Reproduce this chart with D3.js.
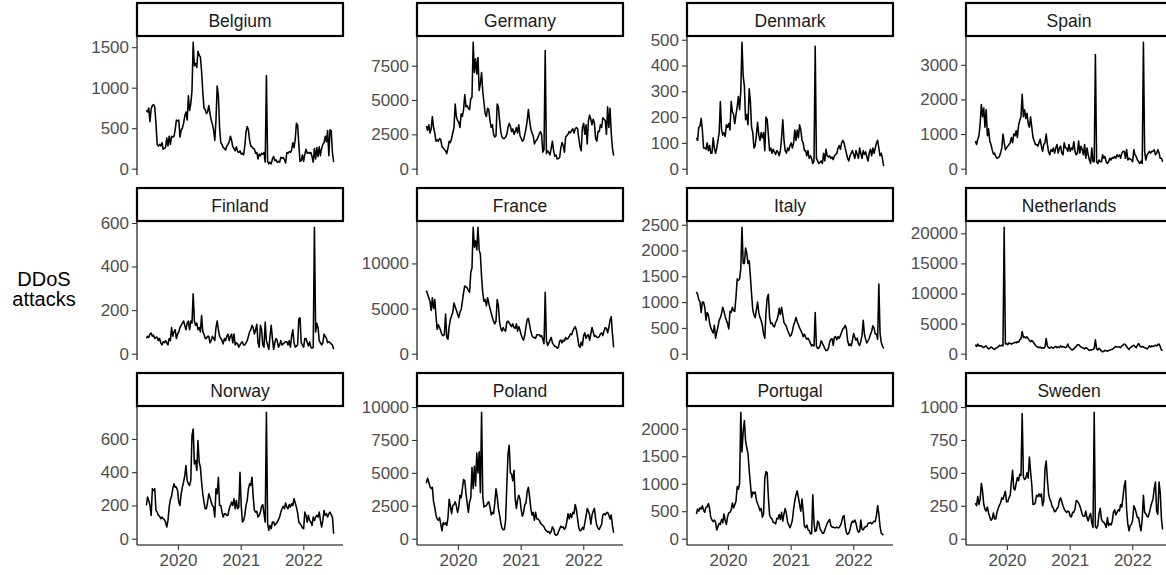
<!DOCTYPE html>
<html><head><meta charset="utf-8">
<script src="https://cdn.jsdelivr.net/npm/d3@7"></script>
<style>body{margin:0;background:#fff}svg{display:block}</style>
</head><body>
<svg id="chart" width="1166" height="575"></svg>
<script>
// ---- data ----
const countries = ["Belgium","Germany","Denmark","Spain","Finland","France","Italy","Netherlands","Norway","Poland","Portugal","Sweden"];
const firstWeek = "2019-07-01"; // weekly observations
const yearTicks = ["2020-01-01","2021-01-01","2022-01-01"];
const yearLabels = ["2020","2021","2022"];

const belgium = [720,700,750,580,740,780,790,760,560,300,280,300,280,320,240,250,260,380,280,400,300,400,390,400,480,600,590,600,390,480,500,560,650,700,600,900,720,800,960,1560,1270,1300,1250,1450,1400,1380,1200,950,750,730,680,700,780,680,600,550,480,350,600,1020,900,500,320,300,260,250,230,280,300,330,400,350,270,250,220,270,210,200,220,180,190,170,280,450,520,480,350,280,270,250,240,190,200,120,180,160,190,180,200,80,1150,90,60,80,60,120,150,100,110,80,90,80,140,130,140,110,70,200,190,210,200,230,320,260,360,560,540,300,90,100,170,90,180,240,190,200,190,200,150,80,250,120,260,150,270,160,250,300,320,400,330,470,160,480,470,200,80];
const germany = [3100,2800,3200,2600,2900,3800,3000,2600,2000,2100,2000,2200,2100,1600,1500,1400,1300,1100,1500,2000,1900,2200,2600,3000,4700,3800,3500,3400,3000,4000,3800,4300,5400,4500,4600,4400,4300,5100,5200,9200,7000,8000,6900,8100,5700,6200,7000,5600,4800,4000,3800,4400,4300,3500,3000,3200,2500,2300,2400,4700,4500,3500,2700,2300,2200,2200,2300,2500,3000,3300,3100,2700,2900,2500,2700,3000,2600,3200,2400,2200,2000,2100,2500,2900,3500,4300,3500,2900,2600,2400,1800,2000,2100,2300,2500,2700,2500,1200,1400,8600,1100,1300,1200,1000,1500,2000,1300,900,1000,700,750,800,1500,1900,1700,1200,2300,2400,2500,2700,2600,2800,2900,2600,2900,3000,2900,2200,1600,1300,3000,3300,2500,3200,1800,3500,3900,3600,3200,3600,3300,2200,2000,2700,2700,3200,3000,3700,3600,3500,2500,4500,3000,4400,2600,1500,950];
const denmark = [120,110,160,165,195,150,80,80,75,100,70,90,60,60,120,80,60,80,110,140,260,150,130,140,125,170,160,175,150,260,220,210,175,210,240,280,230,300,490,360,320,190,210,170,310,260,160,140,80,90,130,180,130,110,140,120,140,70,200,190,130,70,80,60,75,65,55,70,65,50,70,120,190,110,70,60,80,70,90,100,80,100,150,110,150,120,170,150,110,100,70,70,50,70,40,50,40,20,30,475,40,30,20,25,30,20,60,30,75,50,45,50,40,45,35,50,55,60,80,90,75,100,110,100,80,60,40,30,50,60,70,55,40,70,55,40,80,60,40,70,55,65,45,30,60,75,50,80,60,80,100,110,80,50,60,40,10];
const spain = [800,700,850,950,1300,1850,1500,1750,1200,1700,950,1150,800,700,550,420,450,350,300,320,350,450,600,1000,750,550,600,650,700,750,900,750,1000,950,1100,900,1250,1400,1500,2150,1500,1700,1450,1600,1300,1200,1500,1200,900,800,700,700,650,750,850,650,500,700,750,1000,700,480,400,550,500,600,450,600,700,450,600,650,450,400,750,600,600,500,700,500,600,550,780,500,400,450,800,450,650,550,400,700,300,600,400,250,150,600,200,200,3300,200,150,250,200,200,400,300,350,200,150,200,300,250,320,300,350,300,400,350,400,300,450,500,500,300,550,250,300,280,250,200,550,400,350,250,200,150,220,150,3650,500,250,400,450,500,450,500,500,550,400,450,550,450,300,300,200];
const finland = [70,80,75,90,95,80,85,70,75,75,60,70,50,40,55,50,60,50,40,70,60,120,80,100,110,70,90,100,120,130,140,150,130,110,140,150,110,150,140,275,150,130,140,110,120,100,175,100,90,70,70,80,80,50,60,80,70,60,120,150,110,80,70,60,45,70,60,80,90,60,80,90,50,90,40,50,45,30,40,50,55,40,40,50,60,80,100,110,130,120,90,110,135,50,30,130,110,40,30,145,60,40,20,80,130,70,20,50,70,60,30,40,60,40,45,50,55,55,40,60,30,80,110,50,30,35,40,160,165,50,40,30,70,70,50,35,55,30,25,30,580,100,140,120,60,50,40,50,90,80,70,50,55,50,45,40,20];
const france = [7000,6600,6200,5800,4800,6200,5000,6000,4200,2700,3200,2900,2500,2100,2000,2100,4400,1800,1600,3000,3800,4200,4600,5600,5200,4800,4400,4000,4600,4900,5800,6800,7500,7400,7300,7000,6800,9000,9500,14000,11800,12500,11500,14000,11500,11000,8500,6700,5800,6000,5300,6200,5600,5000,4500,4000,3600,3300,3600,6000,5300,3500,2800,2500,2900,2600,2500,3500,3600,3400,3200,3000,3300,2900,2800,3300,2500,3000,2600,2100,1700,1500,2100,3000,3800,3900,3200,2500,2000,1800,1800,1700,2100,2100,2100,1900,2000,1600,1100,6800,1500,900,1200,1500,1800,1200,1000,800,800,600,700,1400,1500,1200,1500,1400,1800,1600,1700,1900,2200,2100,2500,2800,3000,2600,1800,900,700,1300,900,2000,2300,1700,2000,2100,1500,2200,2900,2400,1900,2000,1800,1800,1900,2200,2300,2000,2500,2900,2800,2300,2900,3700,4100,2200,700];
const italy = [1200,1150,1050,1000,800,1000,1000,900,650,800,750,600,500,450,400,550,300,420,520,650,700,780,900,820,720,650,580,480,820,800,900,830,820,1100,1450,1420,1450,1650,2450,1750,1750,2050,1950,1750,1800,1500,1150,850,750,700,850,1000,800,700,640,550,380,300,800,1080,1150,700,580,600,540,520,600,650,720,880,760,900,750,600,570,530,450,400,340,360,440,550,620,700,620,560,500,450,400,330,380,320,280,300,260,200,150,170,150,800,150,100,110,150,250,200,150,100,60,60,110,220,280,290,160,320,330,270,330,300,350,420,480,500,550,480,250,160,190,150,260,390,320,260,300,190,160,240,350,650,380,280,210,250,300,370,430,540,500,380,380,280,1350,400,220,150,100];
const netherlands = [1500,1200,1600,1300,1300,1300,1100,1000,1200,1300,1000,800,900,1100,1000,800,700,900,1000,1100,1400,1300,1400,1300,21000,1600,1700,1500,1800,1700,1600,1700,1800,1900,1800,2000,1900,2300,2500,3700,2700,2800,2600,2800,2500,2200,2000,2200,2000,1700,1400,1200,1100,1000,1100,900,1000,900,1100,2500,1300,1000,900,1100,1000,900,1100,1200,1000,1100,1000,1300,1100,1200,1100,1000,1100,1600,1100,900,700,600,800,1000,1200,1500,1500,1300,1100,1000,900,800,1000,900,700,550,600,650,700,900,2300,800,600,900,700,450,300,400,550,500,400,500,600,700,700,900,1050,1200,1100,1100,1100,1000,1300,1400,1600,1500,1200,900,700,1000,1100,1300,1400,1200,1000,1400,1700,1300,1100,1200,1100,1000,900,800,1000,1300,1100,1300,1200,1300,1400,1300,1500,1600,1200,600,500];
const norway = [200,250,230,200,140,300,290,300,170,160,140,135,120,130,120,115,100,70,110,190,235,255,300,330,310,310,290,220,200,270,310,340,380,440,350,330,320,350,620,660,450,470,410,590,460,430,340,270,220,180,180,220,270,250,220,200,190,130,300,270,370,200,200,160,130,150,150,140,140,180,200,220,200,240,180,230,180,190,400,200,100,110,140,200,230,300,330,320,370,250,170,160,165,130,140,160,195,205,150,100,760,90,50,80,60,100,100,80,90,100,115,130,160,180,195,180,215,190,180,205,190,210,200,240,215,190,155,100,90,80,65,60,160,140,100,140,110,100,80,130,110,130,140,130,160,110,70,110,170,140,150,130,150,160,145,130,30];
const poland = [4200,4600,4300,3950,3800,3900,2800,2400,1800,1500,1400,1600,1100,600,1200,1100,1200,1000,1600,3000,2500,1900,2500,2600,2800,2500,2000,2400,3300,3100,3800,4500,4400,3400,2700,2000,2800,3100,5400,3800,5500,4000,6500,5000,6600,3500,9600,3200,2400,2500,2500,2700,2800,2400,1800,2000,1900,2700,3800,3200,2300,1800,1200,800,680,700,1400,4000,6400,7100,5000,4900,4400,5200,3000,2300,3000,3300,3000,2200,1700,2000,2600,2700,3600,3900,3200,2300,1800,2000,1400,2000,1500,1500,1400,1200,1100,1000,900,700,600,500,550,380,550,900,750,350,260,300,500,750,950,850,900,700,850,1300,1900,1500,1900,1600,2000,1900,2600,2200,1500,800,600,650,850,700,1200,1700,2300,2100,1800,1100,1800,2100,2300,1500,1000,800,700,900,1100,1800,1900,1800,1950,2000,1800,1500,1800,1000,450];
const portugal = [450,540,500,560,540,600,520,480,570,580,640,550,390,340,310,340,300,160,220,280,260,350,290,450,330,260,400,470,480,520,650,560,620,680,950,900,1000,2300,1580,1950,2150,1780,1650,1550,1250,1000,750,850,820,850,700,640,580,510,550,390,450,1100,1220,1200,750,430,380,360,300,290,270,370,360,440,350,480,320,450,550,450,300,250,200,260,340,540,690,800,870,750,620,500,720,500,230,200,250,160,150,90,90,800,280,130,150,320,290,180,140,100,100,160,220,280,320,350,240,210,210,200,200,210,200,200,240,300,400,420,230,110,80,100,170,270,320,300,340,280,170,120,130,340,170,160,200,220,220,280,280,300,270,290,320,310,420,600,450,220,100,80,70];
const sweden = [270,250,320,260,300,420,360,260,225,210,240,195,165,140,150,195,150,150,200,230,255,270,310,300,330,360,280,280,310,330,430,520,380,370,420,465,440,490,480,950,470,450,460,500,460,620,510,410,260,260,275,330,320,340,320,340,250,290,530,590,450,340,300,280,245,230,205,210,230,240,290,310,280,250,225,210,200,210,205,170,165,200,200,225,290,285,270,250,220,185,170,170,210,160,135,170,190,120,85,960,90,80,100,190,230,150,130,125,110,85,160,100,115,105,130,200,220,180,200,220,210,260,240,320,400,440,220,110,60,100,110,140,250,230,195,160,160,100,60,150,330,200,190,170,165,200,240,275,300,380,430,210,185,430,350,150,70];

const belgiumTicks = [0,500,1000,1500];
const germanyTicks = [0,2500,5000,7500];
const denmarkTicks = [0,100,200,300,400,500];
const spainTicks = [0,1000,2000,3000];
const finlandTicks = [0,200,400,600];
const franceTicks = [0,5000,10000];
const italyTicks = [0,500,1000,1500,2000,2500];
const netherlandsTicks = [0,5000,10000,15000,20000];
const norwayTicks = [0,200,400,600];
const polandTicks = [0,2500,5000,7500,10000];
const portugalTicks = [0,500,1000,1500,2000];
const swedenTicks = [0,250,500,750,1000];

const seriesValues = [belgium,germany,denmark,spain,finland,france,italy,netherlands,norway,poland,portugal,sweden];
const seriesTicks = [belgiumTicks,germanyTicks,denmarkTicks,spainTicks,finlandTicks,franceTicks,italyTicks,netherlandsTicks,norwayTicks,polandTicks,portugalTicks,swedenTicks];

// ---- layout ----
const colLeft = [137, 417, 687, 966];
const rowTop = [36, 221, 406];
const panelW = 206, panelH = 139, stripH = 33;
const FONT = "'Liberation Sans', Arial, Helvetica, sans-serif";

const svg = d3.select("#chart").style("font-family", FONT);
svg.append("rect").attr("width",1166).attr("height",575).attr("fill","#fff");

const parse = d3.utcParse("%Y-%m-%d");
const start = parse(firstWeek);
const dates = belgium.map((_, i) => d3.utcDay.offset(start, 7 * i));
const tMin = dates[0], tMax = dates[dates.length - 1];
const span = tMax - tMin;
const xDomain = [new Date(+tMin - 0.05 * span), new Date(+tMax + 0.05 * span)];

countries.forEach((name, k) => {
  const col = k % 4, row = Math.floor(k / 4);
  const left = colLeft[col], top = rowTop[row];
  const vals = seriesValues[k];
  const ymax = d3.max(vals);
  const x = d3.scaleUtc().domain(xDomain).range([left, left + panelW]);
  const y = d3.scaleLinear().domain([-0.05 * ymax, 1.05 * ymax]).range([top + panelH, top]);
  const g = svg.append("g");

  // data line
  const line = d3.line().x((d, i) => x(dates[i])).y(d => y(d));
  g.append("path").datum(vals).attr("d", line)
    .attr("fill", "none").attr("stroke", "#000").attr("stroke-width", 1.55)
    .attr("stroke-linejoin", "round");

  // y axis
  const yAxis = d3.axisLeft(y).tickValues(seriesTicks[k]).tickSize(5).tickPadding(3).tickFormat(d3.format("d"));
  const ya = g.append("g").attr("transform", `translate(${left},0)`).call(yAxis);
  ya.select(".domain").attr("d", `M0,${top}V${top + panelH}`).attr("stroke", "#000").attr("stroke-width", 1.1);
  ya.selectAll(".tick line").attr("stroke", "#333").attr("stroke-width", 1.1);
  ya.selectAll(".tick text").attr("fill", "#4d4d4d").style("font-size", "17px").style("font-family", FONT);

  // x axis on bottom row
  if (row === 2) {
    const xAxis = d3.axisBottom(x).tickValues(yearTicks.map(parse)).tickSize(5).tickPadding(4)
      .tickFormat((d, i) => yearLabels[i]);
    const xa = g.append("g").attr("transform", `translate(0,${top + panelH})`).call(xAxis);
    xa.select(".domain").attr("d", `M${left},0H${left + panelW}`).attr("stroke", "#000").attr("stroke-width", 1.1);
    xa.selectAll(".tick line").attr("stroke", "#333").attr("stroke-width", 1.1);
    xa.selectAll(".tick text").attr("fill", "#4d4d4d").style("font-size", "17px").style("font-family", FONT);
  }

  // strip
  g.append("rect").attr("x", left).attr("y", top - stripH).attr("width", panelW).attr("height", stripH)
    .attr("fill", "#fff").attr("stroke", "#000").attr("stroke-width", 2.2);
  g.append("text").attr("x", left + panelW / 2).attr("y", top - stripH / 2 + 1)
    .attr("text-anchor", "middle").attr("dominant-baseline", "central")
    .attr("fill", "#1a1a1a").style("font-size", "17.5px").text(name);
});

// y axis title
const title = svg.append("text").attr("text-anchor", "middle").attr("fill", "#000").style("font-size", "20px");
title.append("tspan").attr("x", 44).attr("y", 286).text("DDoS");
title.append("tspan").attr("x", 44).attr("y", 306).text("attacks");
</script>
</body></html>
